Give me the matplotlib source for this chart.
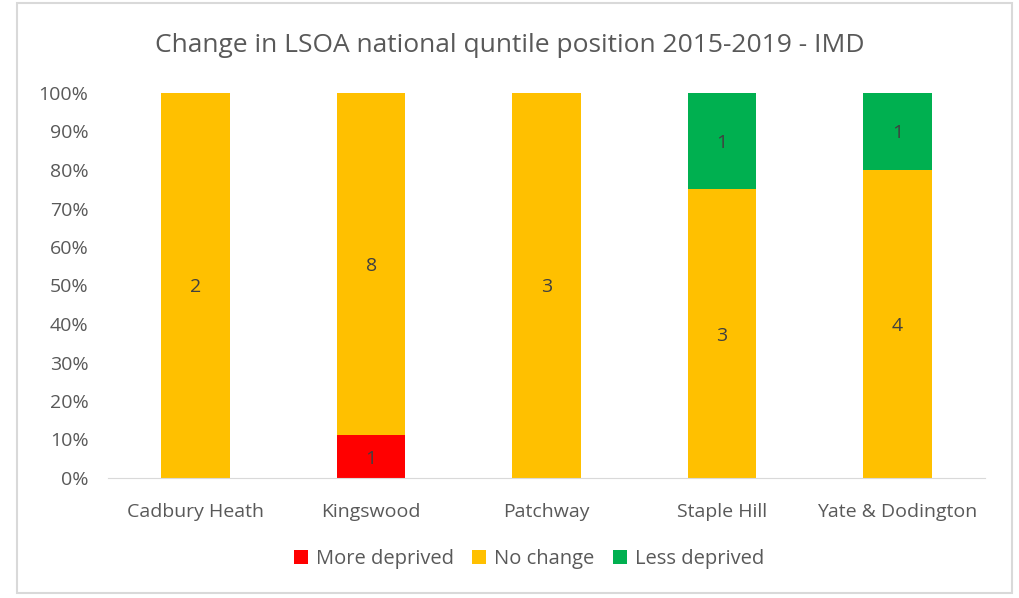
import numpy as np
import matplotlib.pyplot as plt
from matplotlib.patches import Rectangle

# ------------ Data ------------
areas = ["Cadbury Heath", "Kingswood", "Patchway", "Staple Hill", "Yate & Dodington"]
more_deprived = [0, 1, 0, 0, 0]
no_change = [2, 8, 3, 3, 4]
less_deprived = [0, 0, 0, 1, 1]

series_names = ["More deprived", "No change", "Less deprived"]
series_colors = ["#FF0000", "#FFC000", "#00B050"]

plt.rcParams['font.family'] = ['Open Sans', 'DejaVu Sans']
text_col = "#595959"

counts = np.array([more_deprived, no_change, less_deprived], dtype=float)
shares = counts / counts.sum(axis=0)

fig = plt.figure(figsize=(10.2, 5.98), dpi=100)
ax = fig.add_axes([108 / 1020, 1 - 478 / 598, 877 / 1020, 385 / 598])

# chart border
fig.patches.append(Rectangle((17 / 1020, 5 / 598), 995 / 1020, 590 / 598,
                             transform=fig.transFigure, fill=False,
                             edgecolor="#D9D9D9", linewidth=1.5))

x = np.arange(len(areas))
bottom = np.zeros(len(areas))
for name, col, cnt, shr in zip(series_names, series_colors, counts, shares):
    bars = ax.bar(x, shr, 0.39, bottom=bottom, color=col, label=name)
    for xi, b, s, c in zip(x, bottom, shr, cnt):
        if c > 0:
            ax.text(xi, b + s / 2 - 0.005, "%d" % c, ha="center", va="center",
                    fontsize=14, color="#404040")
    bottom += shr

ax.set_xlim(-0.5, len(areas) - 0.5)
ax.set_ylim(0, 1)
ax.set_yticks(np.arange(0, 1.01, 0.1))
ax.set_yticklabels(["%d%%" % round(v * 100) for v in np.arange(0, 1.01, 0.1)])
ax.set_xticks(x)
ax.set_xticklabels(areas)
ax.tick_params(axis="both", length=0, labelsize=14, colors=text_col)
ax.tick_params(axis="x", pad=18)
ax.tick_params(axis="y", pad=14)
for side in ["top", "right", "left"]:
    ax.spines[side].set_visible(False)
ax.spines["bottom"].set_color("#D9D9D9")

fig.text(0.5, 1 - 46 / 598, "Change in LSOA national quntile position 2015-2019 - IMD",
         ha="center", va="center", fontsize=19, color=text_col)

ax.legend(loc="center", bbox_to_anchor=(0.48, -0.21), ncol=3, frameon=False,
          fontsize=14.5, labelcolor=text_col, handlelength=0.7, handleheight=0.7,
          handletextpad=0.4, columnspacing=0.9)

fig.savefig("out.png", dpi=100)
